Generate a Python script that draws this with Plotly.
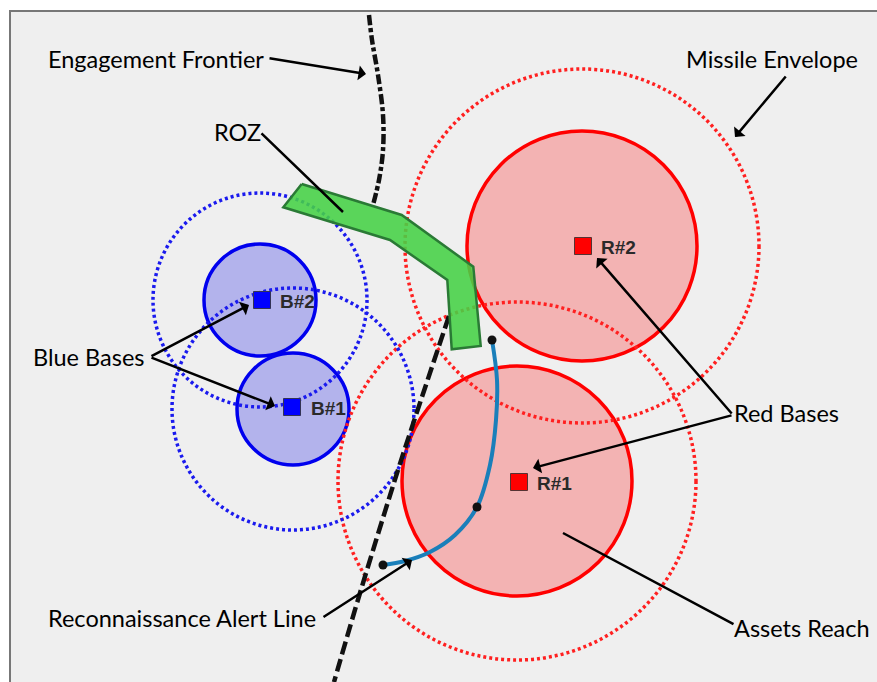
import plotly.graph_objects as go

FONT = "Lato"

# alles in Bildkoordinaten, y-Achse zeigt nach unten
blue_names = ["B#1", "B#2"]
blue_x = [292, 262]
blue_y = [407, 300]
blue_label_x = [309, 278]
blue_centre_x = [293, 260]
blue_centre_y = [409, 300]
blue_reach = [56, 56]
blue_envelope = [121, 107]

red_names = ["R#1", "R#2"]
red_x = [519, 583]
red_y = [482, 246]
red_label_x = [535, 599]
red_centre_x = [517, 582]
red_centre_y = [481, 246]
red_reach = [115, 115]
red_envelope = [179, 177]

roz_x = [301.7, 283.3, 390, 447.3, 451.7, 480.7, 473.3, 401.7, 301.7]
roz_y = [184, 207.3, 240, 280, 349.3, 346, 266.7, 215, 184]

frontier_top_x = [369, 372, 378, 383, 383, 379, 373]
frontier_top_y = [15, 40, 75, 115, 150, 180, 205]
frontier_low_x = [449, 415, 398, 360, 334]
frontier_low_y = [316, 418, 470, 593, 682]

alert_x = [492, 497, 496, 490, 477, 455, 430, 405, 383]
alert_y = [340, 380, 420, 465, 507, 535, 552, 561, 565]
alert_dots_x = [492, 477, 383]
alert_dots_y = [340, 507, 565]

label_texts = ["Engagement Frontier", "Missile Envelope", "ROZ", "Blue Bases",
               "Red Bases", "Assets Reach", "Reconnaissance Alert Line"]
label_x = [46, 684, 212, 31, 732, 732, 46]
label_y = [59, 59, 132, 357, 413, 628, 618]

# von, nach, Pfeilspitze ja/nein
pointers = [
    (268, 58, 366, 74, True),
    (260, 132, 343, 212, False),
    (787, 75, 735, 137, True),
    (150, 357, 249, 305, True),
    (150, 357, 275, 406, True),
    (733, 415, 597, 258, True),
    (733, 415, 533, 468, True),
    (735, 625, 563, 533, False),
    (322, 618, 412, 560, True),
]


def circle(cx, cy, r, line_color, fill="rgba(0,0,0,0)", dash="solid", width=3.5):
    return dict(type="circle", xref="x", yref="y", layer="below",
                x0=cx - r, x1=cx + r, y0=cy - r, y1=cy + r,
                fillcolor=fill, line=dict(color=line_color, width=width, dash=dash))


shapes = [dict(type="rect", xref="x", yref="y", layer="below", x0=10, y0=11, x1=900, y1=700,
               fillcolor="#efefef", line=dict(color="#777777", width=2))]

for i in range(2):
    shapes.append(circle(red_centre_x[i], red_centre_y[i], red_reach[i], "#ff0000",
                         fill="rgba(255,0,0,0.25)"))
    shapes.append(circle(blue_centre_x[i], blue_centre_y[i], blue_reach[i], "#0000ee",
                         fill="rgba(40,40,230,0.30)"))
for i in range(2):
    shapes.append(circle(red_centre_x[i], red_centre_y[i], red_envelope[i], "#ff2020",
                         dash="3px,3px"))
    shapes.append(circle(blue_centre_x[i], blue_centre_y[i], blue_envelope[i], "#1a1aee",
                         dash="3px,3px"))

fig = go.Figure()

fig.add_trace(go.Scatter(x=frontier_top_x, y=frontier_top_y, mode="lines",
                         line=dict(color="#111111", width=4.5, shape="spline", dash="10px,3px,4px,3px")))
fig.add_trace(go.Scatter(x=frontier_low_x, y=frontier_low_y, mode="lines",
                         line=dict(color="#111111", width=4.5, shape="spline", dash="13px,5px")))
fig.add_trace(go.Scatter(x=roz_x, y=roz_y, mode="lines", fill="toself",
                         fillcolor="rgba(70,210,70,0.88)",
                         line=dict(color="#2a7a35", width=2.5)))
fig.add_trace(go.Scatter(x=alert_x, y=alert_y, mode="lines",
                         line=dict(color="#1a7fba", width=4, shape="spline")))
fig.add_trace(go.Scatter(x=alert_dots_x, y=alert_dots_y, mode="markers",
                         marker=dict(color="#111111", size=9)))
fig.add_trace(go.Scatter(x=blue_x, y=blue_y, mode="markers",
                         marker=dict(symbol="square", color="#0000ff", size=17,
                                     line=dict(color="#333355", width=1))))
fig.add_trace(go.Scatter(x=red_x, y=red_y, mode="markers",
                         marker=dict(symbol="square", color="#ff0000", size=17,
                                     line=dict(color="#553333", width=1))))

annotations = []
for text, x, y in zip(label_texts, label_x, label_y):
    annotations.append(dict(x=x, y=y, text=text, xref="x", yref="y", showarrow=False,
                            xanchor="left", yanchor="middle",
                            font=dict(family=FONT, size=23.5, color="#000000")))

for names, xs, ys in [(blue_names, blue_label_x, blue_y), (red_names, red_label_x, red_y)]:
    for name, x, y in zip(names, xs, ys):
        annotations.append(dict(x=x, y=y + 1, text="<b>" + name + "</b>", xref="x", yref="y",
                                showarrow=False, xanchor="left", yanchor="middle",
                                font=dict(family="Liberation Sans", size=19, color="#2a2a2a")))

for x0, y0, x1, y1, head in pointers:
    annotations.append(dict(x=x1, y=y1, ax=x0, ay=y0, xref="x", yref="y", axref="x", ayref="y",
                            text="", showarrow=True, arrowhead=1 if head else 0,
                            arrowsize=1, arrowwidth=2.5, arrowcolor="#000000"))

fig.update_layout(
    width=877, height=682,
    margin=dict(l=0, r=0, t=0, b=0),
    paper_bgcolor="white", plot_bgcolor="white",
    showlegend=False,
    shapes=shapes,
    annotations=annotations,
    xaxis=dict(range=[0, 877], visible=False, fixedrange=True),
    yaxis=dict(range=[682, 0], visible=False, fixedrange=True),
)

fig.write_html("out.html", config={"displayModeBar": False},
               post_script="document.body.style.margin='0';")
